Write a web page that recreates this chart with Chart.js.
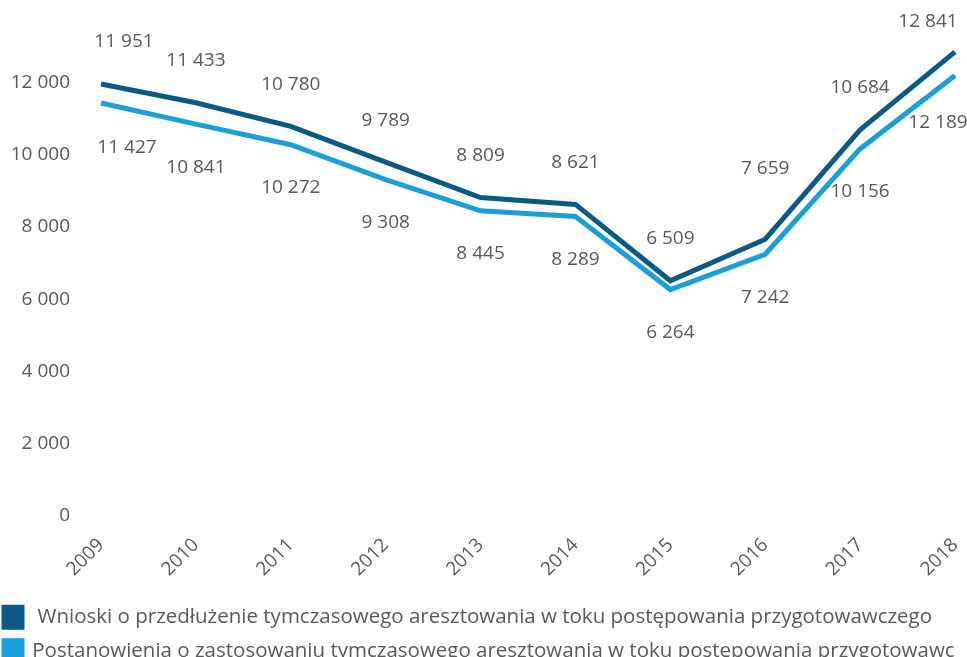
<!DOCTYPE html>
<html lang="pl">
<head>
  <meta charset="UTF-8">
  <title>Tymczasowe aresztowanie 2009-2018</title>
  <script src="https://cdn.jsdelivr.net/npm/chart.js"></script>
  <style>
    html, body {
      margin: 0;
      padding: 0;
      background: #ffffff;
    }
    #wrap {
      width: 967px;
      height: 657px;
      position: relative;
    }
  </style>
</head>
<body>
<div id="wrap">
  <canvas id="chart"></canvas>
</div>

<script>
  const years = ['2009', '2010', '2011', '2012', '2013', '2014', '2015', '2016', '2017', '2018'];
  const wnioski = [11951, 11433, 10780, 9789, 8809, 8621, 6509, 7659, 10684, 12841];
  const postanowienia = [11427, 10841, 10272, 9308, 8445, 8289, 6264, 7242, 10156, 12189];
  const seriesNames = [
    ' Wnioski o przedłużenie tymczasowego aresztowania w toku postępowania przygotowawczego',
    'Postanowienia o zastosowaniu tymczasowego aresztowania w toku postępowania przygotowawczego'
  ];
  const yTicks = [0, 2000, 4000, 6000, 8000, 10000, 12000];

  const textColor = '#595959';
  const fontFamily = '"Open Sans", "Liberation Sans", sans-serif';

  // label placement: above the dark line, below the light one, a few nudged by hand
  const labelOffset = [-42, 43];
  const labelNudge = [
    { 0: [23, 0], 7: [0, -29], 9: [-27, 12] },
    { 0: [26, 2], 9: [-17, 4] }
  ];

  function fmt(v) {
    return String(v).replace(/\B(?=(\d{3})+(?!\d))/g, ' ');
  }

  const valueLabels = {
    id: 'valueLabels',
    afterDatasetsDraw(chart) {
      const ctx = chart.ctx;
      ctx.save();
      ctx.font = '19px ' + fontFamily;
      ctx.fillStyle = textColor;
      ctx.textAlign = 'center';
      ctx.textBaseline = 'middle';
      chart.data.datasets.forEach((ds, di) => {
        const meta = chart.getDatasetMeta(di);
        meta.data.forEach((pt, i) => {
          const n = labelNudge[di][i] || [0, 0];
          ctx.fillText(fmt(ds.data[i]), pt.x + n[0], pt.y + labelOffset[di] + n[1]);
        });
      });
      ctx.restore();
    }
  };

  // legend sits a little lower and more to the left in the original
  const legendShift = {
    id: 'legendShift',
    beforeDraw(chart) {
      if (chart.legend) {
        chart.legend.left = -9;
        chart.legend.top += 14;
      }
    }
  };

  const ctx = document.getElementById('chart').getContext('2d');
  const chart = new Chart(ctx, {
    type: 'line',
    data: {
      labels: years,
      datasets: [{
        label: seriesNames[0],
        data: wnioski,
        borderColor: '#0b5a84',
        backgroundColor: '#0b5a84',
        borderWidth: 5,
        pointRadius: 0,
        tension: 0
      }, {
        label: seriesNames[1],
        data: postanowienia,
        borderColor: '#1b9fd9',
        backgroundColor: '#1b9fd9',
        borderWidth: 5,
        pointRadius: 0,
        tension: 0
      }]
    },
    options: {
      responsive: true,
      maintainAspectRatio: false,
      animation: false,
      layout: {
        padding: { top: 10, right: 12, left: 0, bottom: 0 }
      },
      plugins: {
        tooltip: { enabled: false },
        legend: {
          position: 'bottom',
          align: 'start',
          labels: {
            boxWidth: 18,
            boxHeight: 20,
            padding: 13,
            color: textColor,
            font: { size: 20.5, family: fontFamily }
          }
        }
      },
      scales: {
        x: {
          offset: false,
          grid: { display: false, drawTicks: false },
          border: { display: false },
          ticks: {
            color: textColor,
            font: { size: 19, family: fontFamily },
            minRotation: 45,
            maxRotation: 45,
            padding: 18
          },
          afterFit(scale) {
            scale.height = 64;
            scale.paddingLeft = 0;
            scale.paddingRight = 0;
          }
        },
        y: {
          min: 0,
          max: 14000,
          grid: { display: false, drawTicks: false },
          border: { display: false },
          afterBuildTicks(scale) {
            scale.ticks = yTicks.map(v => ({ value: v }));
          },
          ticks: {
            color: textColor,
            font: { size: 19, family: fontFamily },
            padding: 31,
            callback: v => fmt(v)
          },
          afterFit(scale) {
            scale.width = 101;
            scale.paddingTop = 0;
            scale.paddingBottom = 0;
          }
        }
      }
    },
    plugins: [valueLabels, legendShift]
  });
</script>
</body>
</html>
